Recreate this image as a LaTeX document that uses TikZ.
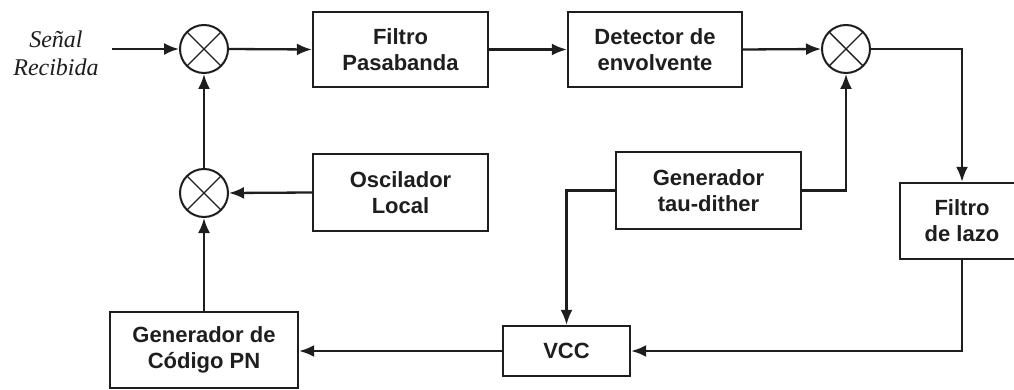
\documentclass[tikz,border=0pt]{standalone}
\usepackage{fontspec}
\setmainfont{Liberation Sans}
\newfontfamily\labelserif{Liberation Serif}
\usetikzlibrary{arrows.meta}
\definecolor{ink}{HTML}{1E1E1E}
\begin{document}
\begin{tikzpicture}[x=1pt,y=-1pt,
  block/.style={draw=ink,line width=2.3pt,fill=white,rectangle,inner sep=0pt,
    align=center,text=ink,font=\fontsize{22}{26}\selectfont\bfseries},
  mixer/.style={draw=ink,line width=2pt,circle,minimum size=48pt,inner sep=0pt,
    path picture={\draw[ink,line width=1.4pt]
      (path picture bounding box.north west) -- (path picture bounding box.south east)
      (path picture bounding box.north east) -- (path picture bounding box.south west);}},
  wire/.style={draw=ink,line width=2.3pt},
  arr/.style={wire,-{Latex[length=15pt,width=12pt]}}]
  \clip (0,0) rectangle (1014,390);
  \fill[white] (0,0) rectangle (1014,390);

  % mixers
  \node[mixer] (m1) at (204,49) {};
  \node[mixer] (m2) at (204,193) {};
  \node[mixer] (m3) at (846,49) {};

  % blocks
  \node[block,minimum width=175pt,minimum height=75pt] (bpf) at (400.5,49.5) {Filtro\\Pasabanda};
  \node[block,minimum width=174pt,minimum height=75pt] (det) at (655,49.5) {Detector de\\envolvente};
  \node[block,minimum width=175pt,minimum height=77pt] (osc) at (400.5,192.5) {Oscilador\\Local};
  \node[block,minimum width=185pt,minimum height=77pt] (tau) at (708.5,190.5) {Generador\\tau-dither};
  \node[block,minimum width=124pt,minimum height=76pt] (lazo) at (962,221) {Filtro\\de lazo};
  \node[block,minimum width=127pt,minimum height=50pt] (vcc) at (566.5,351) {VCC};
  \node[block,minimum width=188pt,minimum height=76pt] (pn) at (204,350) {Generador de\\Código PN};

  % input label
  \node[align=center,text=ink,font=\labelserif\itshape\fontsize{24}{28}\selectfont] (sig) at (56,53) {Señal\\Recibida};
  \coordinate (in) at (112,49);

  % connectors
  \draw[arr] (in) -- (m1.west);
  \draw[arr] (m1.east) -- (bpf.west);
  \draw[arr] (bpf.east) -- (det.west);
  \draw[arr] (det.east) -- (m3.west);
  \draw[arr] (m3.east) -| (lazo.north);
  \draw[arr] (lazo.south) |- (vcc.east);
  \draw[arr] (vcc.west) -- (pn.east |- vcc.west);
  \draw[arr] (pn.north) -- (m2.south);
  \draw[arr] (osc.west) -- (m2.east);
  \draw[arr] (m2.north) -- (m1.south);
  \draw[arr] (tau.east) -| (m3.south);
  \draw[arr] (tau.west) -| (vcc.north);
\end{tikzpicture}
\end{document}
